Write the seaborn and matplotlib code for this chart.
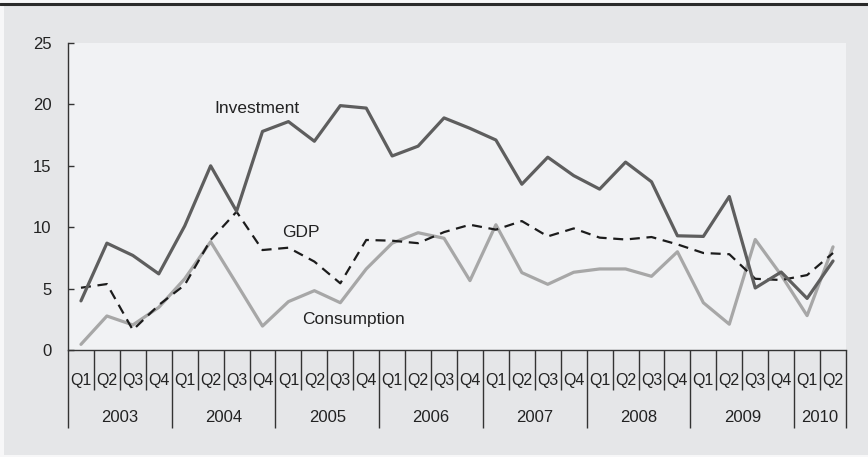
import numpy as np
import pandas as pd
import matplotlib
matplotlib.use('Agg')
import matplotlib.pyplot as plt
import matplotlib.transforms as mtransforms
from matplotlib.patches import Rectangle
from matplotlib.lines import Line2D
import seaborn as sns

# data (quarterly, 2003Q1 .. 2010Q2)
years = ['2003', '2004', '2005', '2006', '2007', '2008', '2009', '2010']
quarters_per_year = [4, 4, 4, 4, 4, 4, 4, 2]
investment = [4.0, 8.7, 7.7, 6.2, 10.1, 15.0, 11.3, 17.8,
              18.6, 17.0, 19.9, 19.7, 15.8, 16.6, 18.9, 18.05,
              17.1, 13.5, 15.7, 14.2, 13.1, 15.3, 13.7, 9.3,
              9.25, 12.5, 5.05, 6.35, 4.2, 7.25]
gdp = [5.07, 5.37, 1.63, 3.66, 5.3, 8.96, 11.26, 8.14,
       8.33, 7.2, 5.43, 8.96, 8.9, 8.7, 9.6, 10.2,
       9.8, 10.5, 9.25, 9.9, 9.15, 9.0, 9.2, 8.6,
       7.9, 7.8, 5.8, 5.7, 6.1, 7.9]
consumption = [0.46, 2.77, 2.04, 3.47, 5.8, 8.82, 5.4, 1.95,
               3.94, 4.83, 3.85, 6.6, 8.7, 9.55, 9.1, 5.65,
               10.2, 6.3, 5.35, 6.33, 6.6, 6.6, 6.0, 8.0,
               3.85, 2.1, 9.0, 6.1, 2.8, 8.4]

qlabels = []
for n in quarters_per_year:
    qlabels += ['Q%d' % (i + 1) for i in range(n)]
idx = np.arange(len(qlabels))

df = pd.DataFrame({'idx': idx, 'Investment': investment, 'GDP': gdp,
                   'Consumption': consumption})

sns.set_style('white')
plt.rcParams['font.family'] = ['Liberation Sans', 'DejaVu Sans']
txt_col = '#222222'

fig = plt.figure(figsize=(8.68, 4.57), dpi=100, facecolor='#f7f7f8')
W, H = 868.0, 457.0
# grey panel and top rule
fig.add_artist(Rectangle((4 / W, 2 / H), 1 - 4 / W, 450 / H, transform=fig.transFigure,
                         facecolor='#e5e6e8', edgecolor='none', zorder=0))
fig.add_artist(Line2D([0, 1], [1 - 4 / H, 1 - 4 / H], transform=fig.transFigure,
                      color='#2a2a2a', lw=2.2, zorder=1))

ax = fig.add_axes([68 / W, (H - 350) / H, (846 - 68) / W, (350 - 43) / H])
ax.set_facecolor('#f1f2f4')

sns.lineplot(data=df, x='idx', y='Consumption', ax=ax, color='#a7a7a7', lw=2.3)
sns.lineplot(data=df, x='idx', y='GDP', ax=ax, color='#1c1c1c', lw=1.6,
             linestyle=(0, (4.5, 3)))
sns.lineplot(data=df, x='idx', y='Investment', ax=ax, color='#5e5e5e', lw=2.3)

ax.set_xlim(-0.5, len(idx) - 0.5)
ax.set_ylim(0, 25)
ax.set_yticks([0, 5, 10, 15, 20, 25])
ax.set_xlabel('')
ax.set_ylabel('')
for s in ['top', 'right']:
    ax.spines[s].set_visible(False)
for s in ['left', 'bottom']:
    ax.spines[s].set_color('#333333')
    ax.spines[s].set_linewidth(1.0)

ax.tick_params(axis='y', left=True, direction='in', length=4, width=1, color='#333333',
               pad=12, labelsize=12, labelcolor=txt_col)

# year boundaries as long major ticks, quarter boundaries as short minor ticks
bounds = np.concatenate([[0], np.cumsum(quarters_per_year)]) - 0.5
ax.set_xticks(bounds)
ax.set_xticklabels([])
ax.set_xticks(np.arange(len(idx) + 1) - 0.5, minor=True)
ax.tick_params(axis='x', which='major', bottom=True, direction='out', length=56,
               width=1, color='#333333')
ax.tick_params(axis='x', which='minor', bottom=True, direction='out', length=29,
               width=1, color='#333333')

trans = mtransforms.blended_transform_factory(ax.transData, ax.transAxes)
for i, q in zip(idx, qlabels):
    ax.text(i, -30 / 307, q, transform=trans, ha='center', va='center',
            fontsize=11.5, color=txt_col)
for k, y in enumerate(years):
    ax.text((bounds[k] + bounds[k + 1]) / 2, -68 / 307, y, transform=trans,
            ha='center', va='center', fontsize=12, color=txt_col)

# series labels
ax.text(5.15, 19.7, 'Investment', ha='left', va='center', fontsize=12.5, color=txt_col)
ax.text(7.74, 9.55, 'GDP', ha='left', va='center', fontsize=12.5, color=txt_col)
ax.text(8.51, 2.5, 'Consumption', ha='left', va='center', fontsize=12.5, color=txt_col)

fig.savefig('out.png', dpi=100, facecolor=fig.get_facecolor())
